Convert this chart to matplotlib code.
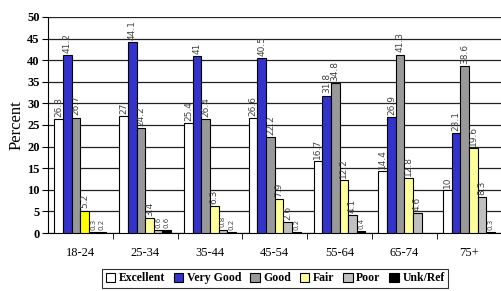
import matplotlib
matplotlib.use("Agg")
from matplotlib import pyplot as plt
from matplotlib.patches import Patch
import numpy as np

groups = ["18-24", "25-34", "35-44", "45-54", "55-64", "65-74", "75+"]
series = ["Excellent", "Very Good", "Good", "Fair", "Poor", "Unk/Ref"]
excellent = [26.3, 27, 25.4, 26.6, 16.7, 14.4, 10]
very_good = [41.2, 44.1, 41, 40.5, 31.8, 26.9, 23.1]
good = [26.7, 24.2, 26.4, 22.2, 34.8, 41.3, 38.6]
fair = [5.2, 3.4, 6.3, 7.9, 12.2, 12.8, 19.6]
poor = [0.3, 0.6, 0.8, 2.6, 4.1, 4.6, 8.3]
unk_ref = [0.2, 0.6, 0.2, 0.2, 0.4, np.nan, 0.3]
values = [excellent, very_good, good, fair, poor, unk_ref]
label_txt = [
	["26.3", "27", "25.4", "26.6", "16.7", "14.4", "10"],
	["41.2", "44.1", "41", "40.5", "31.8", "26.9", "23.1"],
	["26.7", "24.2", "26.4", "22.2", "34.8", "41.3", "38.6"],
	["5.2", "3.4", "6.3", "7.9", "12.2", "12.8", "19.6"],
	["0.3", "0.6", "0.8", "2.6", "4.1", "4.6", "8.3"],
	["0.2", "0.6", "0.2", "0.2", "0.4", "", "0.3"],
]

colors = ["#ffffff", "#3333cc", "#999999", "#ffff99", "#c0c0c0", "#000000"]
# first Fair bar is a brighter yellow in the original
fair_colors = ["#ffff00"] + ["#ffff99"] * 6

fig = plt.figure(figsize=(5.02, 2.91), dpi=100)
ax = fig.add_axes([0.0956, 0.1993, 0.9034, 0.7423])

x = np.arange(len(groups))
w = 0.8 / 6
for i, vals in enumerate(values):
	pos = x - 0.4 + w * (i + 0.5)
	col = fair_colors if series[i] == "Fair" else colors[i]
	ax.bar(pos, vals, width=w, color=col, edgecolor="black", linewidth=0.8, zorder=3)
	for p, v, t in zip(pos, vals, label_txt[i]):
		if t == "":
			continue
		fs = 5 if v < 1 else 6.5
		ax.text(p, v + 0.5, t, rotation=90, ha="center", va="bottom",
			fontsize=fs, color="#444444", family="DejaVu Sans", zorder=4)

ax.set_xlim(-0.5, len(groups) - 0.5)
ax.set_ylim(0, 50)
ax.set_yticks(range(0, 51, 5))
ax.set_yticklabels([str(v) for v in range(0, 51, 5)], family="Liberation Serif",
	fontweight="bold", fontsize=9)
ax.set_xticks(x)
ax.set_xticklabels(groups, family="Liberation Serif", fontsize=9)
ax.set_xticks(np.arange(0.5, len(groups) - 0.5), minor=True)
ax.tick_params(axis="x", which="major", length=0, pad=10)
ax.tick_params(axis="x", which="minor", length=4, direction="out")
ax.tick_params(axis="y", length=4, direction="out", pad=2)
ax.yaxis.grid(True, color="#222222", linewidth=0.9, zorder=0)
ax.set_axisbelow(True)
for s in ["top", "right"]:
	ax.spines[s].set_visible(False)
ax.set_ylabel("Percent", family="Liberation Serif", fontsize=12, labelpad=2)

handles = [Patch(facecolor=c, edgecolor="black", linewidth=0.8) for c in colors]
leg = fig.legend(handles, series, loc="lower center", bbox_to_anchor=(0.548, -0.01),
	ncol=6, frameon=True, fancybox=False, handlelength=0.8, handleheight=0.8,
	handletextpad=0.3, columnspacing=0.75, borderpad=0.3,
	prop={"family": "Liberation Serif", "weight": "bold", "size": 8.5})
leg.get_frame().set_edgecolor("black")
leg.get_frame().set_linewidth(0.8)

fig.savefig("out.png", dpi=100)
